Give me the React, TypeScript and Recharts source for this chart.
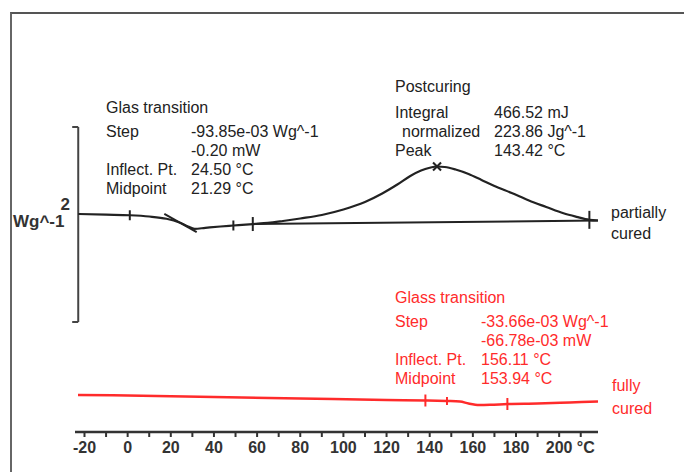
import React from 'react';
import { ComposedChart, Line, Scatter, XAxis, YAxis, ReferenceLine } from 'recharts';

// temperature (°C) and heat flow (Wg^-1, arbitrary offset)
const partialTemp = [-22.9, -10, 1, 10, 18, 24, 28, 31, 36, 43, 49, 58, 65, 72, 80, 90, 100, 110, 118, 125, 131, 136, 140, 143.4, 147, 152, 158, 164, 170, 178, 186, 194, 202, 208, 214, 218];
const partialFlow = [2.236, 2.229, 2.223, 2.21, 2.187, 2.149, 2.108, 2.084, 2.094, 2.108, 2.118, 2.133, 2.144, 2.164, 2.19, 2.226, 2.282, 2.359, 2.446, 2.538, 2.626, 2.682, 2.71, 2.723, 2.718, 2.692, 2.646, 2.585, 2.523, 2.451, 2.374, 2.308, 2.243, 2.207, 2.176, 2.169];

const baselineTemp = [58, 218];
const baselineFlow = [2.133, 2.169];

const tangentTemp = [17, 32];
const tangentFlow = [2.236, 2.051];

const fullTemp = [-23, 0, 40, 80, 120, 138, 148, 154, 158, 163, 168, 176, 190, 205, 218];
const fullFlow = [0.38, 0.374, 0.359, 0.344, 0.328, 0.323, 0.318, 0.313, 0.292, 0.277, 0.279, 0.287, 0.292, 0.303, 0.313];

// small evaluation marks on the curves
const blackMarkTemp = [1, 49, 58, 214];
const blackMarkFlow = [2.223, 2.118, 2.133, 2.176];
const blackMarkSize = [5, 5, 7, 9];
const peakTemp = 143.4;
const peakFlow = 2.723;
const redMarkTemp = [138, 148, 176];
const redMarkFlow = [0.323, 0.318, 0.287];
const redMarkSize = [6, 4, 6];

// scale bar: 2 Wg^-1
const barTemp = -22.9;
const barLow = 1.128;
const barHigh = 3.128;

const xTicks = [-20, -10, 0, 10, 20, 30, 40, 50, 60, 70, 80, 90, 100, 110, 120, 130, 140, 150, 160, 170, 180, 190, 200, 210];

const zip = (t: number[], v: number[]) => t.map((x, i) => ({ t: x, v: v[i] }));

const partialData = zip(partialTemp, partialFlow);
const baselineData = zip(baselineTemp, baselineFlow);
const tangentData = zip(tangentTemp, tangentFlow);
const fullData = zip(fullTemp, fullFlow);
const blackMarks = blackMarkTemp.map((t, i) => ({ t, v: blackMarkFlow[i], h: blackMarkSize[i] }));
const redMarks = redMarkTemp.map((t, i) => ({ t, v: redMarkFlow[i], h: redMarkSize[i] }));

const BLACK = '#222';
const RED = '#ff2b2b';
const FONT = '"Liberation Sans", Arial, sans-serif';

const makeTick = (color: string) => (props: any) => {
  const { cx, cy, payload } = props;
  if (cx == null || cy == null) return <g />;
  return <line x1={cx} x2={cx} y1={cy - payload.h} y2={cy + payload.h} stroke={color} strokeWidth={2} />;
};

const Cross = (props: any) => {
  const { cx, cy } = props;
  if (cx == null || cy == null) return <g />;
  return (
    <g stroke={BLACK} strokeWidth={2}>
      <line x1={cx - 4} x2={cx + 4} y1={cy - 4} y2={cy + 4} />
      <line x1={cx - 4} x2={cx + 4} y1={cy + 4} y2={cy - 4} />
    </g>
  );
};

const AxisTick = (props: any) => {
  const { x, y, payload } = props;
  const v = payload.value;
  let label = '';
  let dx = 0;
  if (v === 210) {
    label = '°C';
    dx = 5;
  } else if (v % 20 === 0) {
    label = String(v);
  }
  if (!label) return <g />;
  return (
    <text x={x + dx} y={y} dy="0.71em" textAnchor="middle" fill="#333" fontSize={16} fontWeight="bold" fontFamily={FONT}>
      {label}
    </text>
  );
};

const T = ({ x, y, children, color = BLACK }: any) => (
  <div
    style={{
      position: 'absolute',
      left: x,
      top: y - 9,
      fontSize: 16,
      lineHeight: '18px',
      color,
      whiteSpace: 'nowrap',
    }}
  >
    {children}
  </div>
);

export default function App() {
  return (
    <div style={{ position: 'absolute', left: 0, top: 0, width: 684, height: 472, background: '#fff', fontFamily: FONT, overflow: 'hidden' }}>
      {/* scanned frame */}
      <div style={{ position: 'absolute', left: 10, top: 12, width: 680, height: 470, borderLeft: '2px solid #666', borderTop: '2px solid #555' }} />

      <ComposedChart width={684} height={472} margin={{ top: 30, right: 86, left: 75, bottom: 10 }}>
        <XAxis
          type="number"
          dataKey="t"
          domain={[-24.4, 218]}
          allowDataOverflow
          ticks={xTicks}
          interval={0}
          tick={<AxisTick />}
          tickSize={5}
          tickMargin={5}
          height={30}
          axisLine={{ stroke: '#333', strokeWidth: 2.5 }}
          tickLine={{ stroke: '#333', strokeWidth: 2 }}
        />
        <YAxis type="number" dataKey="v" domain={[0, 4.1231]} allowDataOverflow hide />

        <ReferenceLine segment={[{ x: barTemp, y: barLow }, { x: barTemp, y: barHigh }]} stroke="#444" strokeWidth={2} ifOverflow="visible" />
        <ReferenceLine segment={[{ x: barTemp - 2.8, y: barLow }, { x: barTemp, y: barLow }]} stroke="#444" strokeWidth={2} ifOverflow="visible" />
        <ReferenceLine segment={[{ x: barTemp - 2.8, y: barHigh }, { x: barTemp, y: barHigh }]} stroke="#444" strokeWidth={2} ifOverflow="visible" />

        <Line data={baselineData} dataKey="v" type="linear" stroke={BLACK} strokeWidth={2} dot={false} isAnimationActive={false} />
        <Line data={tangentData} dataKey="v" type="linear" stroke={BLACK} strokeWidth={2} dot={false} isAnimationActive={false} />
        <Line data={partialData} dataKey="v" type="monotone" stroke={BLACK} strokeWidth={2.2} dot={false} isAnimationActive={false} />
        <Line data={fullData} dataKey="v" type="monotone" stroke={RED} strokeWidth={2.5} dot={false} isAnimationActive={false} />

        <Scatter data={blackMarks} dataKey="v" shape={makeTick(BLACK)} isAnimationActive={false} />
        <Scatter data={[{ t: peakTemp, v: peakFlow }]} dataKey="v" shape={<Cross />} isAnimationActive={false} />
        <Scatter data={redMarks} dataKey="v" shape={makeTick(RED)} isAnimationActive={false} />
      </ComposedChart>

      {/* scale bar label */}
      <div style={{ position: 'absolute', right: 684 - 70, top: 195, fontSize: 17, fontWeight: 'bold', color: '#333' }}>2</div>
      <div style={{ position: 'absolute', left: 13, top: 212, fontSize: 17, fontWeight: 'bold', color: '#333' }}>Wg^-1</div>

      {/* partially cured evaluation */}
      <T x={106} y={108}>Glas transition</T>
      <T x={106} y={132}>Step</T>
      <T x={191} y={132}>-93.85e-03 Wg^-1</T>
      <T x={191} y={151}>-0.20 mW</T>
      <T x={106} y={170}>Inflect. Pt.</T>
      <T x={191} y={170}>24.50 °C</T>
      <T x={106} y={189}>Midpoint</T>
      <T x={191} y={189}>21.29 °C</T>

      <T x={395} y={87}>Postcuring</T>
      <T x={395} y={113}>Integral</T>
      <T x={494} y={113}>466.52 mJ</T>
      <T x={402} y={132}>normalized</T>
      <T x={494} y={132}>223.86 Jg^-1</T>
      <T x={395} y={151}>Peak</T>
      <T x={494} y={151}>143.42 °C</T>

      <T x={611} y={213}>partially</T>
      <T x={611} y={234}>cured</T>

      {/* fully cured evaluation */}
      <T x={395} y={298} color={RED}>Glass transition</T>
      <T x={395} y={322} color={RED}>Step</T>
      <T x={481} y={322} color={RED}>-33.66e-03 Wg^-1</T>
      <T x={481} y={341} color={RED}>-66.78e-03 mW</T>
      <T x={395} y={360} color={RED}>Inflect. Pt.</T>
      <T x={481} y={360} color={RED}>156.11 °C</T>
      <T x={395} y={379} color={RED}>Midpoint</T>
      <T x={481} y={379} color={RED}>153.94 °C</T>

      <T x={612} y={386} color={RED}>fully</T>
      <T x={612} y={409} color={RED}>cured</T>
    </div>
  );
}
